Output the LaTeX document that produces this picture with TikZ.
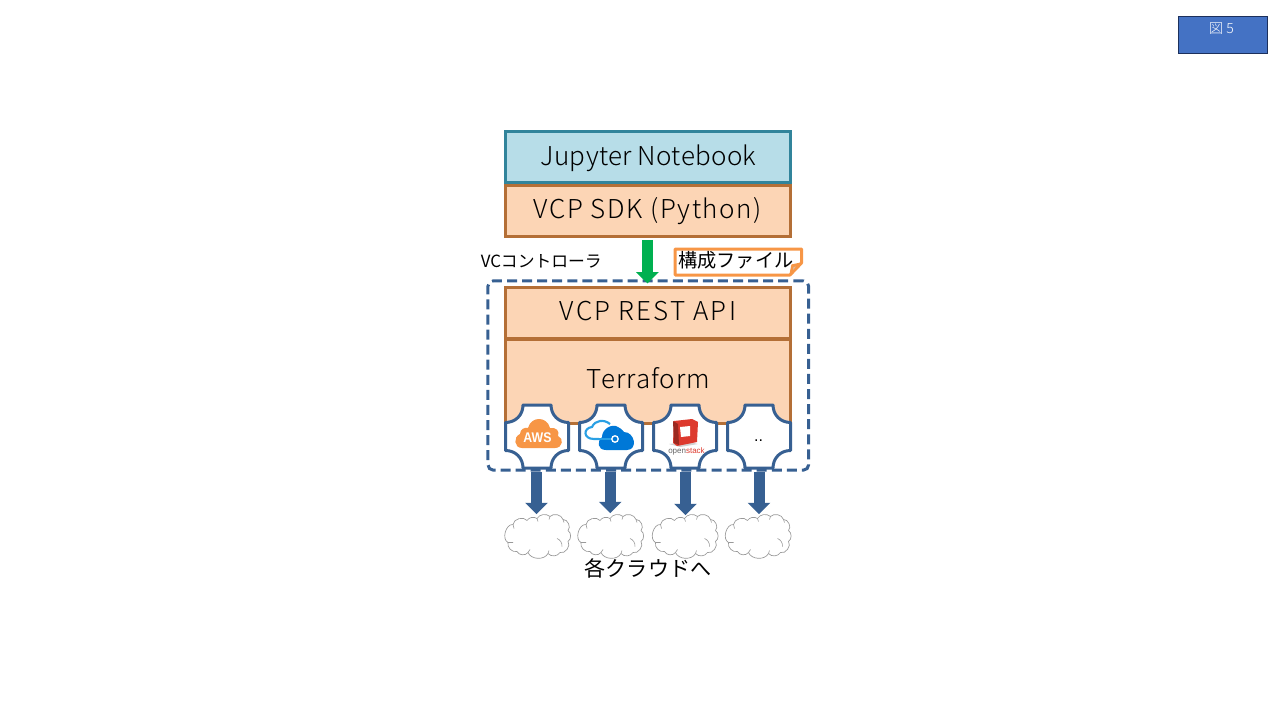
\documentclass[tikz,border=0pt]{standalone}
\usepackage{fontspec}
\setmainfont{Noto Sans CJK JP}[UprightFont=* Light]
\newfontfamily\jpfont{Noto Sans CJK JP}
\newfontfamily\awsfont{Liberation Sans}
\usetikzlibrary{arrows.meta,calc}
\definecolor{teal}{HTML}{31849B}
\definecolor{tealfill}{HTML}{B7DDE8}
\definecolor{brown}{HTML}{B46F36}
\definecolor{peach}{HTML}{FCD5B5}
\definecolor{bluel}{HTML}{376092}
\definecolor{orangel}{HTML}{F79646}
\definecolor{greena}{HTML}{00B050}
\definecolor{azured}{HTML}{0078D7}
\definecolor{azurel}{HTML}{2AA0E4}
\definecolor{osred}{HTML}{DD3A2E}
\newcommand{\fsz}[1]{\fontsize{#1}{#1}\selectfont}
\tikzset{
  x=0.75pt,y=-0.75pt,
  layerbox/.style={draw=brown,fill=peach,line width=2.25pt,minimum width=213.75pt,inner sep=0pt,outer sep=0pt,text=black,font=\fsz{19.5pt}},
  tilenode/.style={inner sep=0pt,outer sep=0pt,minimum width=48pt,minimum height=48pt},
  cloudnode/.style={inner sep=0pt,outer sep=0pt,minimum width=48pt,minimum height=33pt},
  downarrow/.style={draw=bluel,line width=8.25pt,-{Triangle[length=8.5pt,width=16.5pt]}},
  pics/plaque/.style={code={
    \draw[bluel,line width=2.25pt,fill=white,line join=round]
      (-14,-31.5) -- (14,-31.5) .. controls (14,-21.5) and (21.5,-14) .. (31.5,-14)
      -- (31.5,14) .. controls (21.5,14) and (14,21.5) .. (14,31.5)
      -- (-14,31.5) .. controls (-14,21.5) and (-21.5,14) .. (-31.5,14)
      -- (-31.5,-14) .. controls (-21.5,-14) and (-14,-21.5) .. (-14,-31.5) -- cycle;
  }},
  pics/puffy/.style={code={
    \draw[gray!80,line width=0.5pt,fill=white]
      (-24,-13) to[bend left=70] (-10,-17) to[bend left=45] (0,-19)
      to[bend left=50] (13,-21) to[bend left=60] (26,-18) to[bend left=70] (31,-7)
      to[bend left=55] (31,4) to[bend left=75] (23,15) to[bend left=55] (11,16)
      to[bend left=65] (-9,15) to[bend left=60] (-20,14) to[bend left=60] (-29,5)
      to[bend left=80] cycle;
    \draw[gray!80,line width=0.45pt]
      (-29,5) -- (-24,5) (-24,-13) -- (-23,-9) (0,-19) -- (1,-16) (13,-21) -- (12,-18)
      (26,-18) -- (27,-15) (20,1) to[bend left=35] (25,9) (-9,15) -- (-7,12) (11,16) -- (12,13);
  }},
}
\begin{document}
\begin{tikzpicture}
\useasboundingbox (0,0) rectangle (1280,720);
% page tag
\node[draw={rgb,255:red,28;green,48;blue,92},fill={rgb,255:red,68;green,114;blue,196},line width=0.75pt,minimum width=67pt,minimum height=27.75pt,inner sep=0pt,outer sep=0pt] (tag) at (1222.8,34.7) {};
\node[text=white,font=\fsz{10.5pt},inner sep=0pt] (tagtext) at (1221.5,29) {図 5};
% stacked layers
\node[layerbox,draw=teal,fill=tealfill,minimum height=38.25pt] (jup) at (648,157) {};
\node[font=\fsz{19.5pt},inner sep=0pt] (juptext) at (648.5,158) {\addfontfeature{LetterSpace=1.2}Jupyter Notebook};
\node[layerbox,minimum height=38.25pt] (sdk) at (648,211) {\addfontfeature{LetterSpace=6.3}VCP SDK (Python)};
\node[layerbox,minimum height=38.25pt] (rest) at (648,313) {};
\node[font=\fsz{19.5pt},inner sep=0pt] (resttext) at (648,311) {\addfontfeature{LetterSpace=8.5}VCP REST API};
\node[layerbox,minimum height=63pt,text depth=0pt] (terra) at (648,381) {};
\node[font=\fsz{19.5pt},inner sep=0pt] (terratext) at (648.5,378) {\addfontfeature{LetterSpace=3.8}Terraform};
% tiles
\foreach \n/\xx in {t1/537,t2/611,t3/685,t4/759}{
  \node[tilenode] (\n) at (\xx,436.5) {};
  \pic at (\n.center) {plaque};
}
% dashed frame
\node[draw=bluel,dash pattern=on 7.5pt off 3.8pt,line width=2.25pt,rounded corners=4pt,minimum width=240.5pt,minimum height=142pt,inner sep=0pt,outer sep=0pt] (vc) at (648.3,375.5) {};
% clouds
\foreach \n/\xx/\yy in {c1/537/537.5,c2/610/537.5,c3/684.5/537.5,c4/757.5/537.5}{
  \node[cloudnode] (\n) at (\xx,\yy) {};
  \pic at (\n.center) {puffy};
}
\foreach \a/\b/\s/\e in {t1/c1/-.5/1.4,t2/c2/-.8/2.4,t3/c3/.5/.4,t4/c4/0/1.4}{
  \draw[downarrow] ([xshift=\s*0.75pt,yshift=-2.6pt]\a.south) -- ([xshift=\s*0.75pt,yshift=\e*0.75pt]\a.south|-\b.north);
}
% green arrow
\draw[draw=greena,line width=8.5pt,-{Triangle[length=8.5pt,width=16.5pt]}] ([xshift=-0.4pt,yshift=-2.5pt]sdk.south) -- ([xshift=-0.4pt,yshift=-2pt]sdk.south|-vc.north);
% note
\node[inner sep=0pt,outer sep=0pt,minimum width=95.5pt,minimum height=19.5pt] (note) at (738,262) {};
\draw[orangel,line width=2.25pt,line join=round,fill=white] (801.5,249) -- (801.5,263) -- (790,275) -- (675,275) -- (675,249) -- cycle;
\fill[orangel,draw=orangel,line width=1pt,line join=round] (801.5,263) -- (792,265) -- (790,275) -- cycle;
\fill[gray!45!orangel!60!white] (793.5,267) -- (796,266.5) -- (793,270) -- cycle;
\node[font=\jpfont\fsz{14.4pt},inner sep=0pt,anchor=west] (notetext) at (678,260) {構成ファイル};
\node[font=\jpfont\fsz{12.6pt},inner sep=0pt,anchor=west] (vctext) at (480.5,261) {VCコントローラ};
\node[font=\jpfont\fsz{15.8pt},inner sep=0pt] (all) at (648,568.5) {各クラウドへ};
% AWS logo
\fill[orangel] (522,448) .. controls (514,448) and (513,437) .. (520,434) .. controls (520,429) and (525,427) .. (528,428) .. controls (531,416) and (547,416) .. (550,428) .. controls (556,427) and (560,431) .. (558,436) .. controls (564,438) and (563,448) .. (555,448) -- cycle;
\node[text=white,font=\awsfont\bfseries\fsz{10.5pt},inner sep=0pt,xscale=.88] (aws) at (537.5,438) {AWS};
% Azure logo
\draw[azurel,line width=1.6pt] (612,439) -- (594,439) .. controls (583,439) and (583,428) .. (592,427) .. controls (595,420) and (604,419) .. (610,424);
\fill[white] (599,436) rectangle (606,442);
\fill[white] (604,451) rectangle (606,436);
\fill[azured] (606,450) .. controls (597,450) and (597,441) .. (602,437) .. controls (602,429) and (612,423) .. (618,427) .. controls (622,429) and (624,432) .. (624,432) .. controls (635,432) and (638,450) .. (627,450) -- cycle;
\draw[white,line width=1.2pt] (600,439) -- (612,439);
\draw[azurel,line width=1.2pt] (597,439) -- (612,439);
\draw[white,line width=1pt,fill=azured] (615,439) circle[radius=3.2];
% OpenStack logo
\fill[gray!35] (669,444) -- (680,447) -- (698,444) -- (690,442) -- cycle;
\fill[osred] (674,421) -- (692,419) -- (698,422) -- (697,442) -- (677,446) -- (673,443) -- cycle;
\fill[osred!70!black] (673,421) -- (678,424) -- (679,445) -- (674,443) -- cycle;
\fill[white] (680,427) -- (690,426) -- (690,436) -- (681,437) -- cycle;
\node[font=\awsfont\fsz{6pt},inner sep=0pt,text=gray!80!black] (os) at (686.5,451) {open\textcolor{osred}{stack}};
\node[font=\awsfont\fsz{12pt},inner sep=0pt] (dots) at (758.5,441) {..};
\end{tikzpicture}
\end{document}
